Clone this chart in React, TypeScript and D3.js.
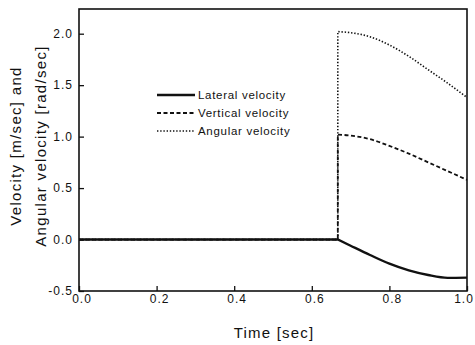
import React, { useEffect, useRef } from "react";
import * as d3 from "d3";

// time points (sec); the step happens at ~0.667 s
const times = [0, 0.667, 0.667, 0.7, 0.75, 0.8, 0.85, 0.9, 0.95, 1.0];
const lateral = [0, 0, 0, -0.06, -0.15, -0.235, -0.3, -0.345, -0.372, -0.37];
const vertical = [0, 0, 1.02, 1.01, 0.975, 0.91, 0.835, 0.75, 0.665, 0.58];
const angular = [0, 0, 2.02, 2.01, 1.97, 1.89, 1.78, 1.65, 1.52, 1.38];

const seriesNames = ["Lateral velocity", "Vertical velocity", "Angular velocity"];
const xTicks = [0, 0.2, 0.4, 0.6, 0.8, 1.0];
const yTicks = [-0.5, 0, 0.5, 1.0, 1.5, 2.0];

const W = 475;
const H = 345;
const FONT = "'Liberation Sans', Arial, sans-serif";

const App = () => {
  const svgRef = useRef<SVGSVGElement>(null);

  useEffect(() => {
    const svg = d3.select(svgRef.current);
    svg.selectAll("*").remove();

    const left = 79, right = 467, top = 9, bottom = 291;
    const x = d3.scaleLinear().domain([0, 1]).range([left, right]);
    const y = d3.scaleLinear().domain([-0.5, 2.24]).range([bottom, top]);

    svg.append("rect").attr("width", W).attr("height", H).attr("fill", "#fff");

    // frame
    svg
      .append("rect")
      .attr("x", left)
      .attr("y", top)
      .attr("width", right - left)
      .attr("height", bottom - top)
      .attr("fill", "none")
      .attr("stroke", "#111")
      .attr("stroke-width", 1.6);

    // x axis ticks (inward)
    const xAxis = svg.append("g").attr("transform", `translate(0,${bottom})`);
    xAxis.call(
      d3.axisBottom(x).tickValues(d3.range(0, 1.01, 0.1)).tickSize(-3).tickFormat(() => "")
    );
    xAxis.call(d3.axisBottom(x).tickValues(xTicks).tickSize(-5).tickFormat(() => ""));
    xAxis.selectAll(".domain").remove();
    xAxis.selectAll("line").attr("stroke", "#111").attr("stroke-width", 1.3);

    const yAxis = svg.append("g").attr("transform", `translate(${left},0)`);
    yAxis.call(
      d3.axisLeft(y).tickValues(d3.range(-0.5, 2.01, 0.25)).tickSize(-3).tickFormat(() => "")
    );
    yAxis.call(d3.axisLeft(y).tickValues(yTicks).tickSize(-5).tickFormat(() => ""));
    yAxis.selectAll(".domain").remove();
    yAxis.selectAll("line").attr("stroke", "#111").attr("stroke-width", 1.3);

    // tick labels
    svg
      .append("g")
      .selectAll("text")
      .data(xTicks)
      .enter()
      .append("text")
      .attr("x", (d) => Math.min(x(d) + 3, W - 11))
      .attr("y", bottom + 12)
      .attr("text-anchor", "middle")
      .style("font-family", FONT)
      .style("font-size", "12px")
      .style("letter-spacing", "1px")
      .attr("fill", "#111")
      .text((d) => d.toFixed(1));

    svg
      .append("g")
      .selectAll("text")
      .data(yTicks)
      .enter()
      .append("text")
      .attr("x", left - 6)
      .attr("y", (d) => y(d) + 4)
      .attr("text-anchor", "end")
      .style("font-family", FONT)
      .style("font-size", "12px")
      .style("letter-spacing", "1px")
      .attr("fill", "#111")
      .text((d) => d.toFixed(1));

    // axis titles
    svg
      .append("text")
      .attr("x", (left + right) / 2 + 1)
      .attr("y", 338)
      .attr("text-anchor", "middle")
      .style("font-family", FONT)
      .style("font-size", "15px")
      .style("letter-spacing", "1.2px")
      .attr("fill", "#111")
      .text("Time [sec]");

    const yTitle = svg
      .append("text")
      .attr("transform", `translate(0,146) rotate(-90)`)
      .attr("text-anchor", "middle")
      .style("font-family", FONT)
      .style("font-size", "15px")
      .style("letter-spacing", "1.3px")
      .attr("fill", "#111");
    yTitle.append("tspan").attr("x", 0).attr("y", 21).text("Velocity [m/sec] and");
    yTitle.append("tspan").attr("x", 0).attr("y", 46).text("Angular velocity [rad/sec]");

    // series: flat part + jump drawn straight, decay part smoothed
    const styles = [
      { data: lateral, width: 2.4, dash: null },
      { data: vertical, width: 1.8, dash: "4,2.5" },
      { data: angular, width: 1.6, dash: "1.4,1.8" },
    ];
    const pts = (data: number[]) => data.map((v, i) => [times[i], v] as [number, number]);
    const straight = d3
      .line<[number, number]>()
      .x((d) => x(d[0]))
      .y((d) => y(d[1]));
    const smooth = d3
      .line<[number, number]>()
      .x((d) => x(d[0]))
      .y((d) => y(d[1]))
      .curve(d3.curveMonotoneX);

    styles
      .slice()
      .reverse()
      .forEach((s) => {
        const p = pts(s.data);
        const d = straight(p.slice(0, 3)) + smooth(p.slice(2)).replace(/^M/, "L");
        svg
          .append("path")
          .attr("d", d)
          .attr("fill", "none")
          .attr("stroke", "#111")
          .attr("stroke-width", s.width)
          .attr("stroke-dasharray", s.dash);
      });

    // legend
    const legendY = [95, 113, 131];
    const legend = svg.append("g");
    styles.forEach((s, i) => {
      legend
        .append("line")
        .attr("x1", 157)
        .attr("x2", 195)
        .attr("y1", legendY[i])
        .attr("y2", legendY[i])
        .attr("stroke", "#111")
        .attr("stroke-width", s.width)
        .attr("stroke-dasharray", s.dash);
      legend
        .append("text")
        .attr("x", 198)
        .attr("y", legendY[i] + 4)
        .style("font-family", FONT)
        .style("font-size", "11.5px")
        .style("letter-spacing", "0.7px")
        .attr("fill", "#111")
        .text(seriesNames[i]);
    });
  }, []);

  return (
    <svg
      ref={svgRef}
      width={W}
      height={H}
      style={{ position: "absolute", left: 0, top: 0 }}
    ></svg>
  );
};

export default App;
